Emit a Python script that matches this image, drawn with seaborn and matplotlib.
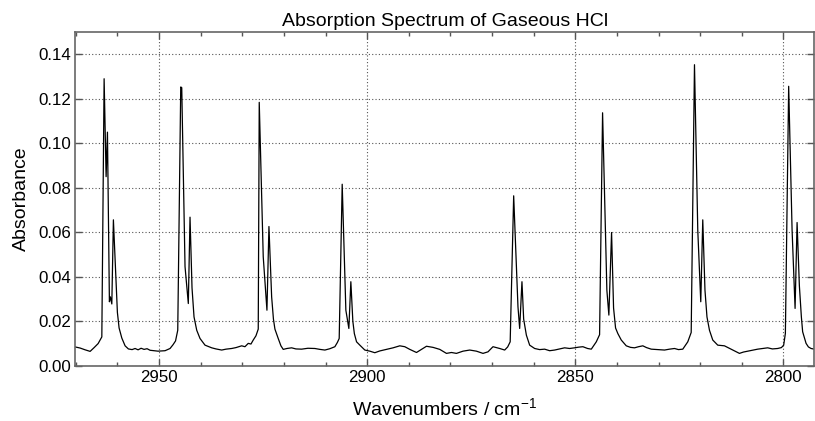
import matplotlib
matplotlib.use("Agg")
import matplotlib.pyplot as plt
from matplotlib.ticker import MultipleLocator
import seaborn as sns
import pandas as pd

wavenumber = [
    2970.16, 2968.96, 2967.76, 2966.56, 2965.60, 2964.64, 2963.75,
    2963.20, 2962.72, 2962.40, 2961.93, 2961.69, 2961.35, 2960.97, 2960.39, 2960.01, 2959.60,
    2958.95, 2958.16, 2957.37,
    2956.48, 2955.76, 2955.04, 2954.32, 2953.60, 2952.88, 2952.16, 2951.20, 2950.24, 2949.28,
    2948.56, 2947.36, 2946.64, 2946.04, 2945.51,
    2944.79, 2944.55, 2943.76, 2942.97, 2942.56, 2942.08, 2941.60, 2940.95, 2940.16, 2938.96,
    2937.35, 2936.32, 2934.95, 2933.92, 2932.55, 2931.52, 2930.15, 2929.36, 2928.57, 2927.92,
    2927.37, 2926.72, 2926.17,
    2925.93, 2924.97, 2924.08, 2923.60, 2922.95, 2922.52, 2922.16, 2921.37, 2920.72, 2920.17,
    2919.28, 2918.15, 2917.12, 2915.75, 2914.24, 2912.56, 2911.36, 2910.16, 2908.96, 2907.76,
    2907.16, 2906.72,
    2906.00, 2905.12, 2904.40, 2903.92, 2903.44, 2903.08, 2902.55, 2901.76, 2900.56, 2899.36,
    2898.16, 2896.96, 2895.35, 2893.77, 2892.16, 2890.96, 2889.76, 2888.15, 2886.95, 2885.75,
    2884.17, 2882.56, 2880.95, 2879.75, 2878.55, 2876.97, 2875.36, 2873.75, 2872.17, 2870.97,
    2869.77, 2868.16, 2866.96, 2866.24, 2865.64,
    2864.80, 2863.77, 2863.36, 2862.81, 2862.40, 2861.75, 2860.96, 2859.76, 2858.56, 2857.36,
    2856.16, 2854.96, 2853.76, 2852.56, 2851.36, 2850.16, 2849.20, 2848.17, 2847.04, 2846.15,
    2844.95, 2844.16,
    2843.44, 2842.41, 2841.93, 2841.28, 2840.80, 2840.32, 2839.77, 2838.95, 2837.75, 2836.72,
    2835.76, 2834.80, 2833.77, 2832.88, 2831.75, 2830.24, 2828.56, 2827.36, 2826.16, 2825.20,
    2824.17, 2822.97, 2822.15,
    2821.36, 2820.57, 2819.85, 2819.37, 2818.84, 2818.36, 2817.76, 2816.97, 2815.77, 2814.16,
    2812.55, 2811.52, 2810.56, 2809.60, 2808.57, 2807.44, 2806.17, 2805.04, 2803.77, 2802.64,
    2801.37, 2800.48, 2799.93, 2799.52,
    2798.73, 2797.91, 2797.19, 2796.71, 2796.16, 2795.68, 2795.37, 2794.55, 2793.99, 2793.35,
    2792.56,
]
absorbance = [
    0.0085, 0.0080, 0.0072, 0.0065, 0.0082, 0.0100, 0.0130,
    0.1290, 0.0850, 0.1050, 0.0288, 0.0310, 0.0278, 0.0656, 0.0400, 0.0240, 0.0170,
    0.0125, 0.0090, 0.0076,
    0.0073, 0.0078, 0.0072, 0.0079, 0.0074, 0.0077, 0.0070, 0.0068, 0.0066, 0.0067,
    0.0068, 0.0078, 0.0095, 0.0112, 0.0160,
    0.1253, 0.1250, 0.0446, 0.0280, 0.0668, 0.0350, 0.0220, 0.0160, 0.0123, 0.0093,
    0.0081, 0.0076, 0.0071, 0.0075, 0.0078, 0.0082, 0.0090, 0.0086, 0.0101, 0.0098,
    0.0116, 0.0135, 0.0165,
    0.1184, 0.0490, 0.0250, 0.0626, 0.0310, 0.0210, 0.0165, 0.0123, 0.0090, 0.0074,
    0.0078, 0.0081, 0.0076, 0.0075, 0.0079, 0.0078, 0.0074, 0.0071, 0.0077, 0.0086,
    0.0105, 0.0123,
    0.0816, 0.0250, 0.0168, 0.0378, 0.0200, 0.0145, 0.0108, 0.0093, 0.0071, 0.0066,
    0.0059, 0.0067, 0.0074, 0.0081, 0.0090, 0.0086, 0.0074, 0.0060, 0.0074, 0.0088,
    0.0083, 0.0074, 0.0056, 0.0060, 0.0056, 0.0066, 0.0071, 0.0066, 0.0056, 0.0063,
    0.0086, 0.0078, 0.0071, 0.0085, 0.0108,
    0.0764, 0.0266, 0.0168, 0.0378, 0.0210, 0.0138, 0.0093, 0.0078, 0.0073, 0.0075,
    0.0068, 0.0071, 0.0076, 0.0081, 0.0078, 0.0081, 0.0084, 0.0086, 0.0078, 0.0075,
    0.0108, 0.0140,
    0.1137, 0.0340, 0.0228, 0.0599, 0.0260, 0.0170, 0.0145, 0.0116, 0.0090, 0.0083,
    0.0081, 0.0086, 0.0090, 0.0082, 0.0075, 0.0073, 0.0071, 0.0075, 0.0078, 0.0073,
    0.0075, 0.0108, 0.0150,
    0.1353, 0.0610, 0.0288, 0.0656, 0.0340, 0.0220, 0.0160, 0.0116, 0.0093, 0.0090,
    0.0075, 0.0065, 0.0056, 0.0062, 0.0066, 0.0070, 0.0075, 0.0078, 0.0081, 0.0076,
    0.0078, 0.0082, 0.0093, 0.0146,
    0.1256, 0.0610, 0.0258, 0.0644, 0.0360, 0.0220, 0.0153, 0.0101, 0.0085, 0.0078,
    0.0075,
]

x_ticks = [2950, 2900, 2850, 2800]
y_ticks = [0.00, 0.02, 0.04, 0.06, 0.08, 0.10, 0.12, 0.14]

sns.set_theme(style="white")
plt.rcParams['font.family'] = ['Liberation Sans', 'DejaVu Sans']
plt.rcParams['mathtext.fontset'] = 'custom'
plt.rcParams['mathtext.rm'] = 'Liberation Sans'
plt.rcParams['mathtext.it'] = 'Liberation Sans'
plt.rcParams['mathtext.default'] = 'regular'

df = pd.DataFrame({"Wavenumber": wavenumber, "Absorbance": absorbance})

fig = plt.figure(figsize=(8.15, 4.21), dpi=100)
ax = fig.add_axes([0.092, 0.131, 0.907, 0.793])

sns.lineplot(data=df, x="Wavenumber", y="Absorbance", estimator=None, sort=False,
             color="black", linewidth=0.9, ax=ax)

ax.set_xlim(2970.2, 2792.6)
ax.set_ylim(0, 0.15)
ax.set_xticks(x_ticks)
ax.set_xticklabels([str(t) for t in x_ticks])
ax.set_yticks(y_ticks)
ax.set_yticklabels([f"{t:.2f}" for t in y_ticks])
ax.xaxis.set_minor_locator(MultipleLocator(10))

ax.grid(True, which="major", linestyle=(0, (1, 2)), color="#555555", linewidth=0.8)
for s in ax.spines.values():
    s.set_color("#666666")
    s.set_linewidth(1.2)

ax.tick_params(axis="both", which="major", direction="in", length=5, width=1,
               color="#555555", labelsize=12.2, labelcolor="black",
               top=True, right=True, bottom=True, left=True, pad=3)
ax.tick_params(axis="x", which="minor", direction="in", length=3, width=1,
               color="#555555", top=True, bottom=True)

ax.set_title("Absorption Spectrum of Gaseous HCl", fontsize=14, color="black", pad=4)
ax.set_xlabel("Wavenumbers / cm$^{-1}$", fontsize=14, color="black", labelpad=9)
ax.set_ylabel("Absorbance", fontsize=14, color="black", labelpad=6)

fig.savefig("out.png", dpi=100)
